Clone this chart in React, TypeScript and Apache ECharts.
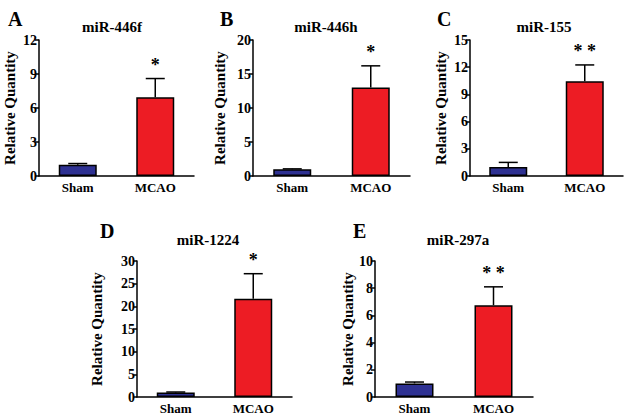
import React, { useEffect, useRef } from "react";
import * as echarts from "echarts";

const categories = ["Sham", "MCAO"];
const panelLetters = ["A", "B", "C", "D", "E"];
const panelTitles = ["miR-446f", "miR-446h", "miR-155", "miR-1224", "miR-297a"];
const shamMeans = [1.0, 1.0, 1.0, 1.0, 1.0];
const shamErrTop = [1.1, 1.05, 1.5, 1.1, 1.1];
const mcaoMeans = [6.95, 13.0, 10.45, 21.7, 6.75];
const mcaoErrTop = [8.6, 16.2, 12.25, 27.2, 8.1];
const yMax = [12, 20, 15, 30, 10];
const yInterval = [3, 5, 3, 5, 2];
const significance = ["*", "*", "* *", "*", "* *"];

// layout (pixels)
const grids = [
  { left: 39, top: 40, width: 155, height: 136, nameGap: 22 },
  { left: 253, top: 40, width: 157, height: 136, nameGap: 26 },
  { left: 470, top: 40, width: 153, height: 136, nameGap: 22 },
  { left: 137, top: 261, width: 155, height: 136, nameGap: 33 },
  { left: 375, top: 261, width: 158, height: 136, nameGap: 20 },
];
const titlePos = [
  [107, 14],
  [321, 14],
  [539, 14],
  [203, 227],
  [453, 227],
];
const letterPos = [
  [3, 4],
  [215, 4],
  [432, 4],
  [95, 216],
  [348, 216],
];

const BLUE = "#2e3192";
const RED = "#ed1c24";
const FONT = "Liberation Serif";

export default function App() {
  const ref = useRef<HTMLDivElement>(null);
  useEffect(() => {
    if (!ref.current) return;
    const chart = echarts.init(ref.current, undefined, { renderer: "svg" });
    const gridOpts: any[] = [];
    const xAxes: any[] = [];
    const yAxes: any[] = [];
    const series: any[] = [];
    const titles: any[] = [];
    grids.forEach((g, i) => {
      gridOpts.push({ left: g.left, top: g.top, width: g.width, height: g.height, containLabel: false });
      xAxes.push({
        type: "category",
        gridIndex: i,
        data: categories,
        axisLine: { lineStyle: { color: "#000", width: 1.5 } },
        axisTick: { show: false },
        axisLabel: { color: "#000", fontFamily: FONT, fontWeight: "bold", fontSize: 13, margin: 5 },
      });
      yAxes.push({
        type: "value",
        gridIndex: i,
        min: 0,
        max: yMax[i],
        interval: yInterval[i],
        name: "Relative Quantity",
        nameLocation: "middle",
        nameGap: g.nameGap,
        nameTextStyle: { color: "#000", fontFamily: FONT, fontWeight: "bold", fontSize: 15 },
        axisLine: { show: true, lineStyle: { color: "#000", width: 1.5 } },
        axisTick: { show: true, length: 4, lineStyle: { color: "#000", width: 1.5 } },
        axisLabel: { color: "#000", fontFamily: FONT, fontWeight: "bold", fontSize: 14, margin: 2 },
        splitLine: { show: false },
      });
      series.push({
        type: "bar",
        xAxisIndex: i,
        yAxisIndex: i,
        barWidth: 38,
        data: [
          { value: shamMeans[i], itemStyle: { color: BLUE } },
          { value: mcaoMeans[i], itemStyle: { color: RED } },
        ],
        itemStyle: { borderColor: "#000", borderWidth: 1.5 },
        silent: true,
      });
      series.push({
        type: "custom",
        xAxisIndex: i,
        yAxisIndex: i,
        data: [
          [0, shamMeans[i], shamErrTop[i]],
          [1, mcaoMeans[i], mcaoErrTop[i]],
        ],
        renderItem: (params: any, api: any) => {
          const base = api.coord([api.value(0), api.value(1)]);
          const top = api.coord([api.value(0), api.value(2)]);
          const sig = params.dataIndex === 1 ? significance[i] : "";
          const half = 9.5;
          const children: any[] = [
            { type: "line", shape: { x1: base[0], y1: base[1], x2: top[0], y2: top[1] }, style: { stroke: "#000", lineWidth: 1.5 } },
            { type: "line", shape: { x1: top[0] - half, y1: top[1], x2: top[0] + half, y2: top[1] }, style: { stroke: "#000", lineWidth: 1.5 } },
          ];
          if (sig) {
            children.push({
              type: "text",
              x: top[0],
              y: top[1] - 14,
              style: { text: sig, fill: "#000", fontFamily: FONT, fontWeight: "bold", fontSize: 18, align: "center", verticalAlign: "middle" },
            });
          }
          return { type: "group", children };
        },
        z: 3,
        silent: true,
      });
      titles.push({
        text: panelTitles[i],
        left: titlePos[i][0],
        top: titlePos[i][1],
        textAlign: "center",
        textStyle: { color: "#000", fontFamily: FONT, fontWeight: "bold", fontSize: 15 },
      });
      titles.push({
        text: panelLetters[i],
        left: letterPos[i][0],
        top: letterPos[i][1],
        textStyle: { color: "#000", fontFamily: FONT, fontWeight: "bold", fontSize: 20 },
      });
    });
    chart.setOption({
      animation: false,
      backgroundColor: "#fff",
      title: titles,
      grid: gridOpts,
      xAxis: xAxes,
      yAxis: yAxes,
      series,
    });
    return () => chart.dispose();
  }, []);
  return <div ref={ref} style={{ position: "absolute", left: 0, top: 0, width: 631, height: 417 }} />;
}
